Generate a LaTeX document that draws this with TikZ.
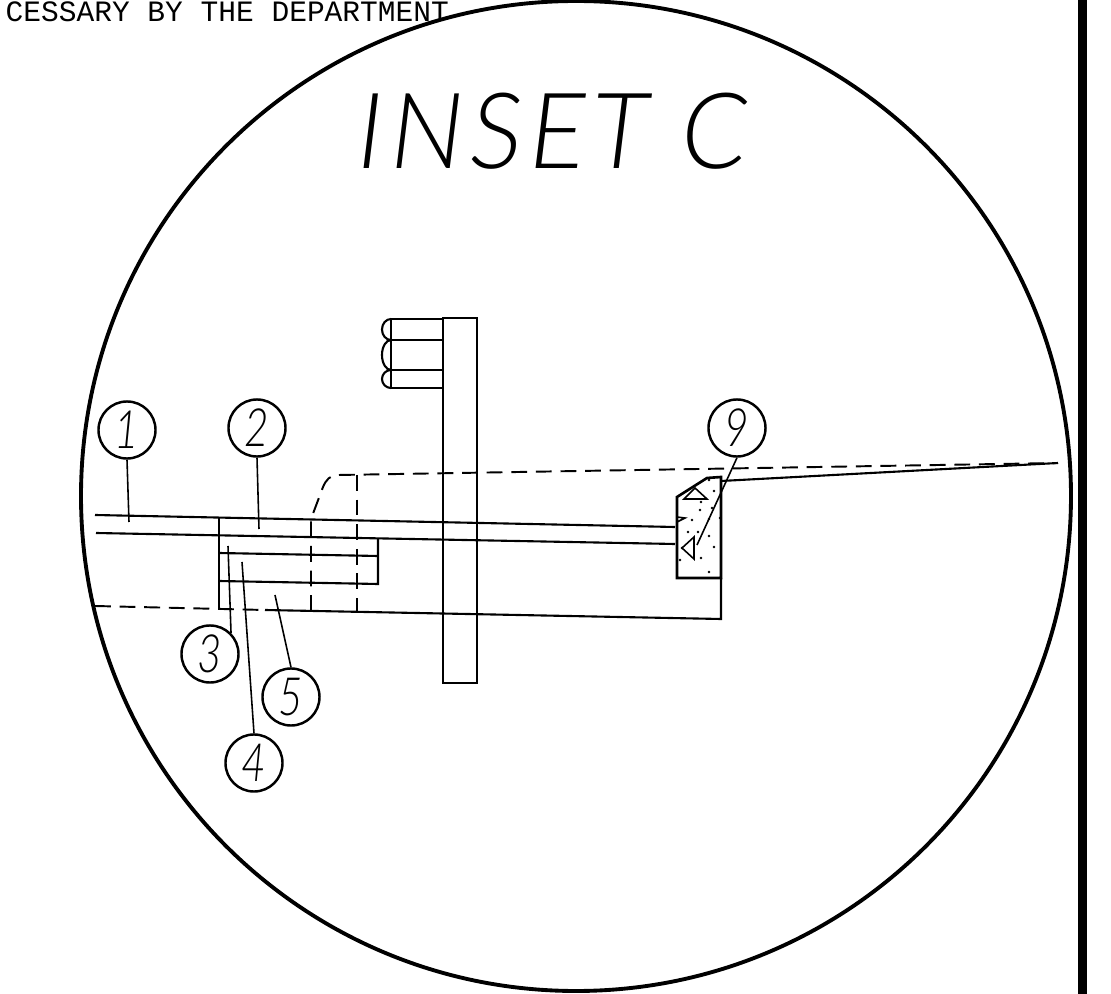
\documentclass[tikz,border=0pt]{standalone}
\usepackage{fontspec}
\setmainfont{Liberation Sans}
\newfontfamily\notefont{Liberation Mono}
\newfontfamily\callfont{Lato Light}
\usetikzlibrary{positioning}
\tikzset{
    outline/.style={line width=0.75pt, black},
    roadline/.style={line width=0.6pt, black},
    thinline/.style={line width=0.45pt, black},
    hidden/.style={line width=0.55pt, black, dash pattern=on 4.5pt off 2.5pt},
    callout/.style={circle, draw, line width=0.7pt, minimum size=0.57cm, inner sep=0pt, font=\callfont\fontsize{15}{15}\selectfont\itshape},
    speck/.style={circle, fill=black, inner sep=0pt, minimum size=0.8pt},
}
\begin{document}
\begin{tikzpicture}[x=0.01cm,y=-0.01cm]
    \useasboundingbox (0,0) rectangle (1111,994);

    % Inset boundary
    \begin{scope}
        \clip (0,0) rectangle (1111,994);
        \draw [line width=1.1pt] (576,496) circle [radius=495];
    \end{scope}
    \fill (1078,0) rectangle (1087,994);

    % Header text
    \node (note) [anchor=west, inner sep=0pt, font=\notefont\fontsize{8.4}{8.4}\selectfont] at (5,12) {CESSARY BY THE DEPARTMENT};
    \node (title) [inner sep=0pt, font=\callfont\fontsize{30}{30}\selectfont\itshape] at (553,131) {\addfontfeatures{LetterSpace=6}INSET C};

    % Callouts
    \node (c1) [callout] at (127,430) {\scalebox{0.8}[1]{1}};
    \node (c2) [callout] at (257,428) {\scalebox{0.8}[1]{2}};
    \node (c3) [callout] at (210,654) {\scalebox{0.8}[1]{3}};
    \node (c4) [callout] at (254,763) {\scalebox{0.8}[1]{4}};
    \node (c5) [callout] at (291,697) {\scalebox{0.8}[1]{5}};
    \node (c9) [callout] at (737,428) {\scalebox{0.8}[1]{9}};

    % Pole with signal head
    \draw [roadline] (443,318) rectangle (477,683);
    \draw [outline] (391,319) -- (443,319) (391,340) -- (443,340) (391,370) -- (443,370) (391,388) -- (443,388);
    \draw [outline] (391,319) -- (391,388);
    \draw [roadline] (391,319) arc [start angle=270, end angle=90, x radius=9, y radius=10.5];
    \draw [roadline] (391,340) arc [start angle=270, end angle=90, x radius=9, y radius=15];
    \draw [roadline] (391,370) arc [start angle=270, end angle=90, x radius=9, y radius=9];

    % Roadway layers
    \draw [roadline] (95,515) -- (675,527);
    \draw [roadline] (96,533) -- (675,544);
    \draw [roadline] (219,518) -- (219,609);
    \draw [roadline] (219,553) -- (378,556);
    \draw [roadline] (219,581) -- (378,584) -- (378,539);
    \draw [hidden] (95,606) -- (265,610);
    \draw [roadline] (265,610) -- (721,619) -- (721,578);

    % Dashed outline
    \draw [hidden] (311,611) -- (311,519) -- (323,487) .. controls (326,480) and (330,475) .. (338,475) -- (1058,463);
    \draw [hidden] (357,475) -- (357,612);
    \draw [roadline] (721,481) -- (1058,463);

    % Concrete block
    \draw [outline] (677,578) -- (677,497) -- (707,478) -- (721,477) -- (721,578) -- cycle;
    \draw [thinline] (684,499) -- (695,488) -- (707,499) -- cycle;
    \draw [thinline] (694,537) -- (682,548) -- (694,559) -- cycle;
    \draw [thinline] (677,517) -- (685,518) -- (677,522);
    \foreach \px/\py in {709/480,714/491,701/502,700/510,712/508,692/520,709/519,720/518,688/532,698/532,709/536,714/547,682/548,701/558,680/560,709/572}
        \node [speck] at (\px,\py) {};

    % Leaders
    \draw [thinline] (c1.south) -- (129,522);
    \draw [thinline] (c2.south) -- (259,529);
    \draw [thinline] (c3.45) -- (228,546);
    \draw [thinline] (c4.north) -- (242,562);
    \draw [thinline] (c5.north) -- (275,595);
    \draw [thinline] (c9.south) -- (697,545);
\end{tikzpicture}
\end{document}
